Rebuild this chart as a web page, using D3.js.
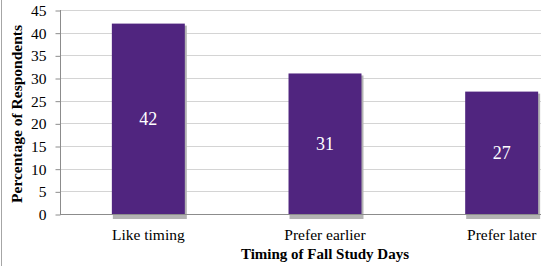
<!DOCTYPE html>
<html>
<head>
<meta charset="utf-8">
<script src="https://cdn.jsdelivr.net/npm/d3@7"></script>
<style>
  html, body { margin: 0; padding: 0; background: #fff; }
  svg text { font-family: "Liberation Serif", "Times New Roman", Times, "DejaVu Serif", serif !important; }
</style>
</head>
<body>
<div id="chart"></div>
<script>
// chart data
const categories = ["Like timing", "Prefer earlier", "Prefer later"];
const values = [42, 31, 27];
const yTicks = [0, 5, 10, 15, 20, 25, 30, 35, 40, 45];

const width = 541;
const height = 266;

// plot area (runs past the right edge, like the original crop)
const plot = { left: 60, right: 590, top: 10, bottom: 214 };

const svg = d3.select("#chart")
  .append("svg")
  .attr("width", width)
  .attr("height", height);

const x = d3.scaleBand()
  .domain(categories)
  .range([plot.left, plot.right])
  .paddingInner(0.587)
  .paddingOuter(0.2935);

const y = d3.scaleLinear()
  .domain([0, 45])
  .range([plot.bottom, plot.top]);

// frame line on the left
svg.append("line")
  .attr("x1", 1.5).attr("x2", 1.5)
  .attr("y1", 0).attr("y2", height)
  .attr("stroke", "#a6a6a6")
  .attr("stroke-width", 1);

// gridlines
svg.append("g")
  .selectAll("line")
  .data(yTicks.slice(1))
  .join("line")
  .attr("x1", plot.left)
  .attr("x2", width)
  .attr("y1", d => Math.round(y(d)) + 0.5)
  .attr("y2", d => Math.round(y(d)) + 0.5)
  .attr("stroke", "#d4d4d4")
  .attr("stroke-width", 1);

// y axis
const yAxis = svg.append("g")
  .attr("transform", `translate(${plot.left + 0.5},0.5)`)
  .call(d3.axisLeft(y).tickValues(yTicks).tickSize(5).tickPadding(9))
  .call(g => g.select(".domain").remove());

yAxis.selectAll(".tick line").attr("stroke", "#8c8c8c");
yAxis.selectAll(".tick text")
  .attr("fill", "#000")
  .style("font-size", "15.5px");

svg.append("line")
  .attr("x1", plot.left + 0.5).attr("x2", plot.left + 0.5)
  .attr("y1", plot.top).attr("y2", plot.bottom)
  .attr("stroke", "#8c8c8c");

// bar shadows
svg.append("g")
  .selectAll("rect")
  .data(values)
  .join("rect")
  .attr("x", (d, i) => x(categories[i]) + 1)
  .attr("y", d => y(d) + 2)
  .attr("width", x.bandwidth() + 1)
  .attr("height", d => y(0) - y(d) + 3)
  .attr("fill", "#b3b3b3");

// bars
svg.append("g")
  .selectAll("rect")
  .data(values)
  .join("rect")
  .attr("x", (d, i) => x(categories[i]))
  .attr("y", d => y(d))
  .attr("width", x.bandwidth())
  .attr("height", d => y(0) - y(d))
  .attr("fill", "#50257f");

// x axis baseline
svg.append("line")
  .attr("x1", plot.left).attr("x2", width)
  .attr("y1", Math.round(y(0)) + 0.5).attr("y2", Math.round(y(0)) + 0.5)
  .attr("stroke", "#8c8c8c");

// value labels
svg.append("g")
  .selectAll("text")
  .data(values)
  .join("text")
  .attr("x", (d, i) => x(categories[i]) + x.bandwidth() / 2)
  .attr("y", d => (y(d) + y(0)) / 2)
  .attr("dy", "0.35em")
  .attr("text-anchor", "middle")
  .attr("fill", "#fff")
  .style("font-size", "18px")
  .text(d => d);

// category labels
svg.append("g")
  .selectAll("text")
  .data(categories)
  .join("text")
  .attr("x", d => x(d) + x.bandwidth() / 2)
  .attr("y", 240)
  .attr("text-anchor", "middle")
  .attr("fill", "#000")
  .style("font-size", "15.5px")
  .text(d => d);

// axis titles
svg.append("text")
  .attr("x", (plot.left + plot.right) / 2)
  .attr("y", 259)
  .attr("text-anchor", "middle")
  .attr("font-weight", "bold")
  .style("font-size", "15px")
  .text("Timing of Fall Study Days");

svg.append("text")
  .attr("transform", `translate(22,${(plot.top + plot.bottom) / 2 + 2}) rotate(-90)`)
  .attr("text-anchor", "middle")
  .attr("font-weight", "bold")
  .style("font-size", "15.5px")
  .text("Percentage of Respondents");
</script>
</body>
</html>
